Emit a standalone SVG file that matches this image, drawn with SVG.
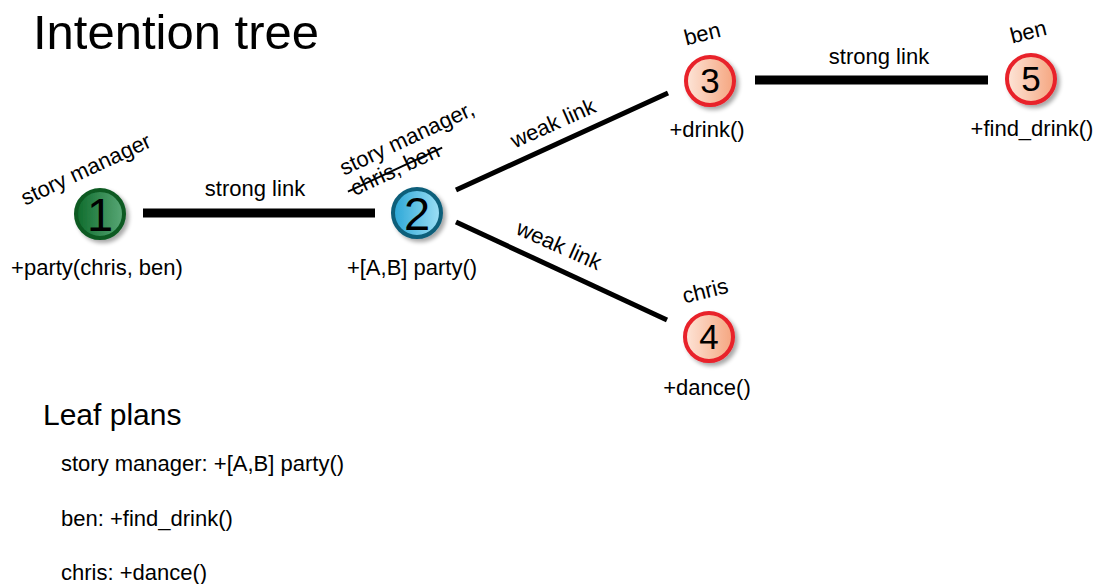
<svg xmlns="http://www.w3.org/2000/svg" width="1103" height="584" viewBox="0 0 1103 584">
  <style>
    text { font-family: "Liberation Sans", Arial, sans-serif; fill: #000; }
    .lbl { font-size: 22px; }
    .num { font-size: 35px; text-anchor: middle; }
    .big { font-size: 47px; }
    .mid { text-anchor: middle; }
    .strong { stroke: #000; stroke-width: 9; fill: none; }
    .weak { stroke: #000; stroke-width: 5; fill: none; }
  </style>
  <defs>
    <linearGradient id="gGreen" x1="0" y1="0" x2="1" y2="0">
      <stop offset="0" stop-color="#0e6b2c"/>
      <stop offset="1" stop-color="#5aa877"/>
    </linearGradient>
    <linearGradient id="gBlue" x1="0" y1="0" x2="1" y2="0">
      <stop offset="0" stop-color="#2aa6d6"/>
      <stop offset="1" stop-color="#9ee0f6"/>
    </linearGradient>
    <linearGradient id="gPeach" x1="0" y1="0" x2="1" y2="0">
      <stop offset="0" stop-color="#fde5d8"/>
      <stop offset="1" stop-color="#f5a57f"/>
    </linearGradient>
    <filter id="shadow" x="-30%" y="-30%" width="170%" height="170%">
      <feGaussianBlur in="SourceAlpha" stdDeviation="2"/>
      <feOffset dx="3" dy="3" result="b"/>
      <feComponentTransfer><feFuncA type="linear" slope="0.35"/></feComponentTransfer>
      <feMerge><feMergeNode/><feMergeNode in="SourceGraphic"/></feMerge>
    </filter>
  </defs>

  <rect width="1103" height="584" fill="#fff"/>

  <text x="33" y="49" font-size="49">Intention tree</text>

  <!-- links between nodes -->
  <g id="connectors">
    <line class="strong" x1="143" y1="213" x2="375" y2="213"/>
    <line class="strong" x1="755" y1="80" x2="988" y2="80"/>
    <line class="weak" x1="456" y1="190" x2="668" y2="93"/>
    <line class="weak" x1="456" y1="222" x2="667" y2="320"/>
    <text class="lbl mid" x="255" y="196">strong link</text>
    <text class="lbl mid" x="879" y="64">strong link</text>
    <text class="lbl mid" transform="translate(556,130) rotate(-24)">weak link</text>
    <text class="lbl mid" transform="translate(556,252) rotate(24)">weak link</text>
  </g>

  <g id="node1">
    <circle cx="100" cy="214" r="24" fill="url(#gGreen)" stroke="#0b5a22" stroke-width="4" filter="url(#shadow)"/>
    <text class="num big" x="100" y="231">1</text>
    <text class="lbl mid" transform="translate(89,176) rotate(-25)">story manager</text>
    <text class="lbl mid" x="97" y="275">+party(chris, ben)</text>
  </g>

  <g id="node2">
    <circle cx="417" cy="213" r="24" fill="url(#gBlue)" stroke="#0d5e7a" stroke-width="4" filter="url(#shadow)"/>
    <text class="num big" x="417" y="230">2</text>
    <text class="lbl mid" transform="translate(410,145) rotate(-25)">story manager,</text>
    <g transform="translate(398,176) rotate(-25)">
      <text class="lbl mid" x="0" y="0">chris, ben</text>
      <line x1="-52" y1="-7" x2="52" y2="-7" stroke="#000" stroke-width="2"/>
    </g>
    <text class="lbl mid" x="412" y="275">+[A,B] party()</text>
  </g>

  <g id="node3">
    <circle cx="710" cy="81" r="24" fill="url(#gPeach)" stroke="#e8202a" stroke-width="4" filter="url(#shadow)"/>
    <text class="num" x="710" y="93">3</text>
    <text class="lbl mid" transform="translate(704,41) rotate(-14)">ben</text>
    <text class="lbl mid" x="707" y="137">+drink()</text>
  </g>

  <g id="node4">
    <circle cx="709" cy="337" r="24" fill="url(#gPeach)" stroke="#e8202a" stroke-width="4" filter="url(#shadow)"/>
    <text class="num" x="709" y="349">4</text>
    <text class="lbl mid" transform="translate(707,298) rotate(-14)">chris</text>
    <text class="lbl mid" x="707" y="395">+dance()</text>
  </g>

  <g id="node5">
    <circle cx="1031" cy="79" r="24" fill="url(#gPeach)" stroke="#e8202a" stroke-width="4" filter="url(#shadow)"/>
    <text class="num" x="1031" y="91">5</text>
    <text class="lbl mid" transform="translate(1030,39) rotate(-14)">ben</text>
    <text class="lbl mid" x="1032" y="136">+find_drink()</text>
  </g>

  <g id="leaf-plans">
    <text x="43" y="425" font-size="30">Leaf plans</text>
    <text class="lbl" x="61" y="471">story manager: +[A,B] party()</text>
    <text class="lbl" x="61" y="526">ben: +find_drink()</text>
    <text class="lbl" x="61" y="580">chris: +dance()</text>
  </g>
</svg>
